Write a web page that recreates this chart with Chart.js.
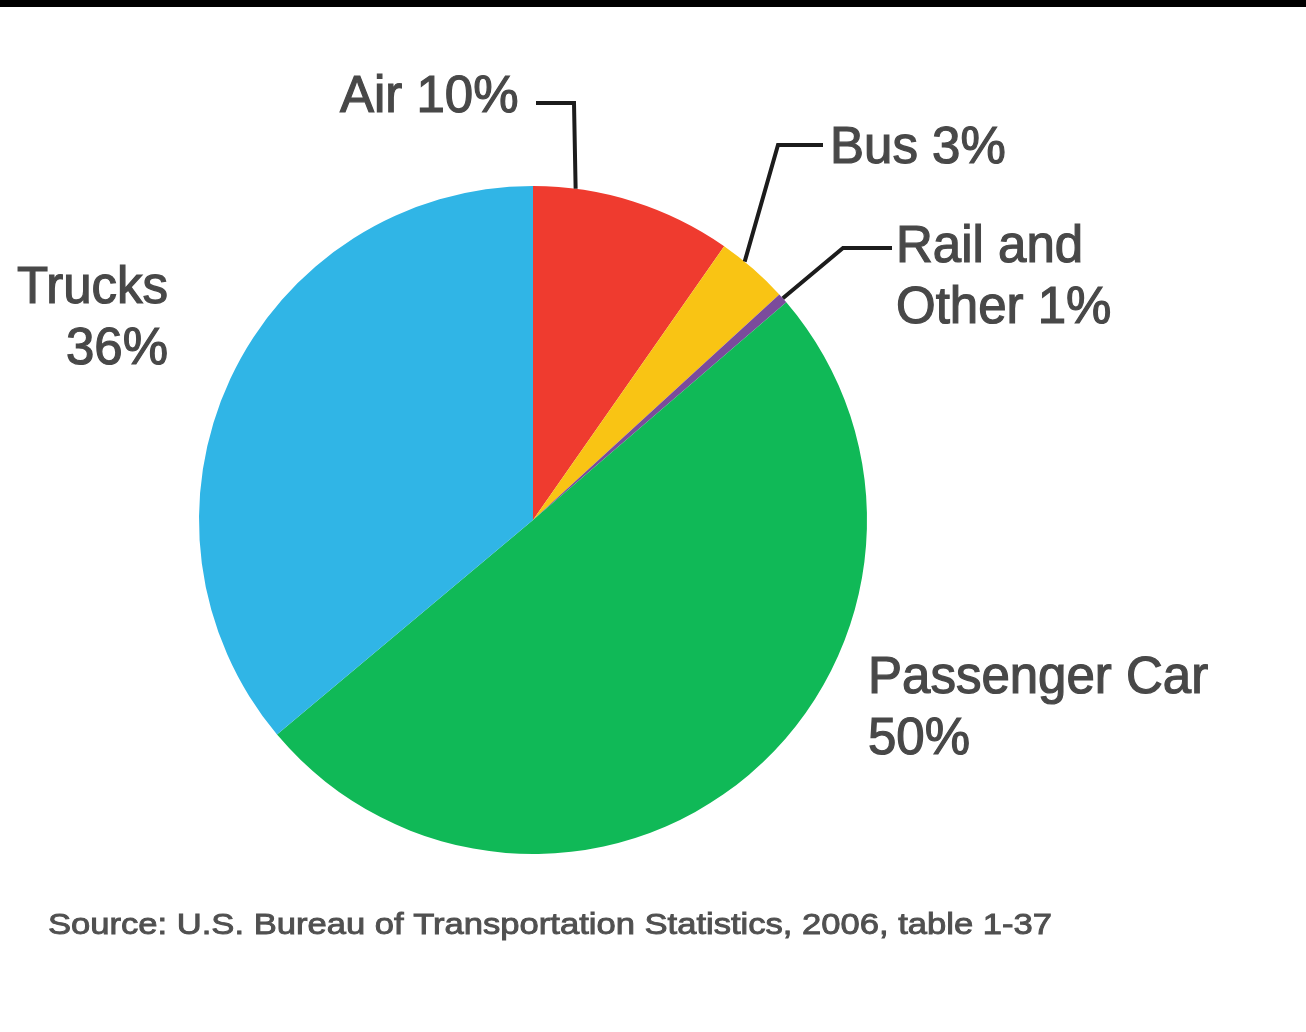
<!DOCTYPE html>
<html>
<head>
<meta charset="utf-8">
<script src="https://cdn.jsdelivr.net/npm/chart.js@4/dist/chart.umd.min.js"></script>
<style>
  html, body { margin: 0; padding: 0; background: #fff; }
  #bar { position: absolute; left: 0; top: 0; width: 1306px; height: 7px; background: #000; }
  #chart { position: absolute; left: 0; top: 0; }
</style>
</head>
<body>
<div id="bar"></div>
<canvas id="chart" width="1306" height="1032"></canvas>
<script>
// categories, clockwise from 12 o'clock
const categories = ["Air", "Bus", "Rail and Other", "Passenger Car", "Trucks"];
// percentages printed on the labels
const labelPercents = [10, 3, 1, 50, 36];
// slice shares as drawn in the picture (estimated from the angles)
const sliceShares = [9.7, 3.5, 0.5, 50.2, 36.1];
const sliceColors = ["#ef3b2f", "#f9c414", "#7b4b9c", "#10b957", "#30b5e6"];
const sourceText = "Source: U.S. Bureau of Transportation Statistics, 2006, table 1-37";

// label layout: text lines, alignment, position and optional leader line
const labelLayout = [
  { lines: ["Air " + labelPercents[0] + "%"], x: 340, y: 112, align: "left",
    leader: { f: 0.21, elbow: [574, 103], end: [536, 103] } },
  { lines: ["Bus " + labelPercents[1] + "%"], x: 830, y: 163, align: "left",
    leader: { f: 0.35, elbow: [778, 145], end: [823, 145] } },
  { lines: ["Rail and", "Other " + labelPercents[2] + "%"], x: 896, y: 262, align: "left",
    leader: { f: 0.5, elbow: [843, 248], end: [892, 248] } },
  { lines: ["Passenger Car", labelPercents[3] + "%"], x: 868, y: 693, align: "left" },
  { lines: ["Trucks", labelPercents[4] + "%"], x: 168, y: 303, align: "right" }
];

const labelPlugin = {
  id: "pieLabels",
  afterDraw(chart) {
    const ctx = chart.ctx;
    const arcs = chart.getDatasetMeta(0).data;
    ctx.save();
    // leader lines
    ctx.strokeStyle = "#1c1c1c";
    ctx.lineWidth = 4;
    ctx.lineJoin = "miter";
    labelLayout.forEach((lab, i) => {
      if (!lab.leader) return;
      const a = arcs[i].getProps(["x", "y", "startAngle", "endAngle", "outerRadius"], true);
      const ang = a.startAngle + lab.leader.f * (a.endAngle - a.startAngle);
      const px = a.x + a.outerRadius * Math.cos(ang);
      const py = a.y + a.outerRadius * Math.sin(ang);
      ctx.beginPath();
      ctx.moveTo(px, py);
      ctx.lineTo(lab.leader.elbow[0], lab.leader.elbow[1]);
      ctx.lineTo(lab.leader.end[0], lab.leader.end[1]);
      ctx.stroke();
    });
    // label text, with a thin stroke to give the heavier look of the picture
    ctx.fillStyle = "#484848";
    ctx.strokeStyle = "#484848";
    ctx.lineWidth = 1.2;
    ctx.font = "51px 'Liberation Sans', Arial, sans-serif";
    ctx.textBaseline = "alphabetic";
    labelLayout.forEach(lab => {
      ctx.textAlign = lab.align;
      lab.lines.forEach((t, k) => {
        ctx.fillText(t, lab.x, lab.y + k * 61);
        ctx.strokeText(t, lab.x, lab.y + k * 61);
      });
    });
    // source line, fitted to the width it has in the picture
    ctx.font = "29px 'Liberation Sans', Arial, sans-serif";
    ctx.textAlign = "left";
    ctx.fillStyle = "#505050";
    ctx.strokeStyle = "#505050";
    ctx.lineWidth = 0.9;
    const w = ctx.measureText(sourceText).width;
    ctx.translate(48, 934);
    ctx.scale(1004 / w, 1);
    ctx.fillText(sourceText, 0, 0);
    ctx.strokeText(sourceText, 0, 0);
    ctx.restore();
  }
};

new Chart(document.getElementById("chart"), {
  type: "pie",
  data: {
    labels: categories,
    datasets: [{
      data: sliceShares,
      backgroundColor: sliceColors,
      borderWidth: 0,
      hoverOffset: 0
    }]
  },
  options: {
    responsive: false,
    animation: false,
    layout: { padding: { left: 199, right: 439, top: 186, bottom: 178 } },
    plugins: {
      legend: { display: false },
      tooltip: { enabled: false },
      title: { display: false }
    }
  },
  plugins: [labelPlugin]
});
</script>
</body>
</html>
